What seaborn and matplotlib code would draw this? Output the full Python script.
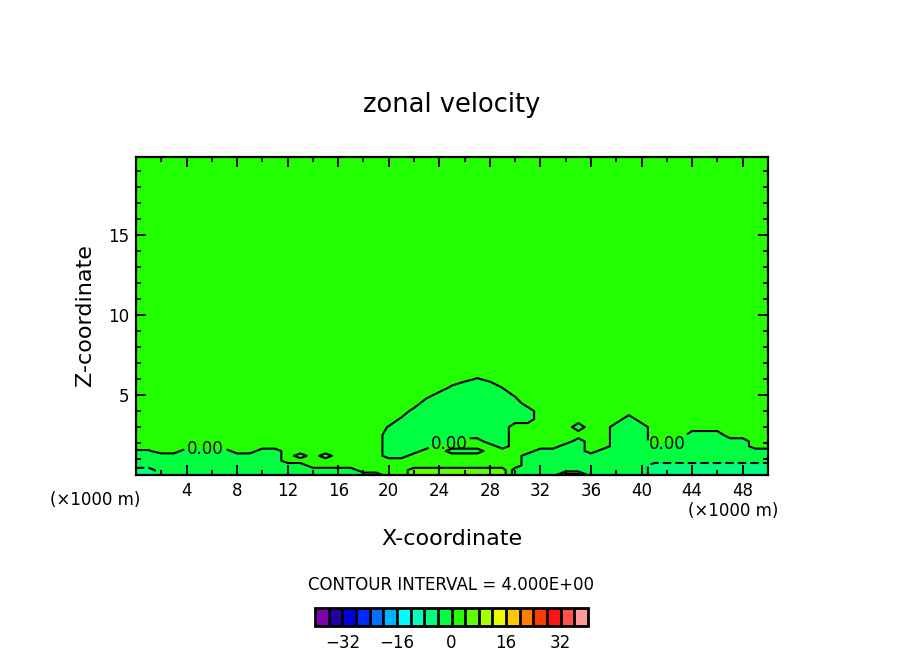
import numpy as np
import seaborn as sns
import matplotlib
matplotlib.use("Agg")
import matplotlib.pyplot as plt
from matplotlib.ticker import FixedLocator, MultipleLocator

# grid: x in 1000 m, z in 1000 m
x_km = np.arange(0, 51)
z_km = [0, 0.3, 0.6, 0.9, 1.2, 1.5, 1.8, 2.1, 2.5, 3.0, 3.5, 4.0, 4.5, 5.0, 5.5, 6.0, 6.5, 19.9]

# zonal velocity (m/s) estimated at each grid row, x = 0 ... 50
u_z00 = [-6, -6, -2, -2, -2, -2, -2, -2, -2, -2,
         -2, -2, -2, -2, -2, -2, -2, -2, -2, -2,
         2, 2, 6, 6, 6, 6, 6, 6, 6, 6,
         -2, -2, -2, -2, 6, 6, -2, -2, -2, -2,
         -2, -6, -6, -6, -6, -6, -6, -6, -6, -6, -6]
u_z03 = [-6, -6, -2, -2, -2, -2, -2, -2, -2, -2,
         -2, -2, -2, -2, -2, -2, -2, -2, 2, 2,
         2, 2, 6, 6, 6, 6, 6, 6, 6, 6,
         -2, -2, -2, -2, -2, -2, -2, -2, -2, -2,
         -2, -6, -6, -6, -6, -6, -6, -6, -6, -6, -6]
u_z06 = [-2, -2, -2, -2, -2, -2, -2, -2, -2, -2,
         -2, -2, -2, -2, 2, 2, 2, 2, 2, 2,
         2, 2, 2, 2, 2, 2, 2, 2, 2, 2,
         2, -2, -2, -2, -2, -2, -2, -2, -2, -2,
         -2, -6, -6, -6, -6, -6, -6, -6, -6, -6, -6]
u_z09 = [-2, -2, -2, -2, -2, -2, -2, -2, -2, -2,
         -2, -2, 2, 2, 2, 2, 2, 2, 2, 2,
         2, 2, 2, 2, 2, 2, 2, 2, 2, 2,
         2, -2, -2, -2, -2, -2, -2, -2, -2, -2,
         -2, -2, -2, -2, -2, -2, -2, -2, -2, -2, -2]
u_z12 = [-2, -2, -2, -2, -2, -2, -2, -2, -2, -2,
         -2, -2, 2, -2, 2, -2, 2, 2, 2, 2,
         -2, -2, 2, 2, 2, 2, 2, 2, 2, 2,
         2, -2, -2, -2, -2, -2, -2, -2, -2, -2,
         -2, -2, -2, -2, -2, -2, -2, -2, -2, -2, -2]
u_z15 = [-0.5, -0.5, 2, 2, -2, -2, -2, -2, 2, 2,
         -2, -2, 2, 2, 2, 2, 2, 2, 2, 2,
         -2, -2, -2, 2, 2, -2, -2, -2, 2, 2,
         2, 2, -2, -2, -2, -2, 2, -2, -2, -2,
         -2, -2, -2, -2, -2, -2, -2, -2, -2, -2, -2]
u_z18 = [2, 2, 2, 2, 2, 2, 2, 2, 2, 2,
         2, 2, 2, 2, 2, 2, 2, 2, 2, 2,
         -2, -2, -2, -2, 2, 2, 2, 2, 2, -2,
         2, 2, 2, 2, -2, -2, 2, 2, -2, -2,
         -2, -2, -2, -2, -2, -2, -2, -2, -2, 2, 2]
u_z21 = [2, 2, 2, 2, 2, 2, 2, 2, 2, 2,
         2, 2, 2, 2, 2, 2, 2, 2, 2, 2,
         -2, -2, -2, -2, -2, -2, 2, 2, -2, -2,
         2, 2, 2, 2, 2, -2, 2, 2, -2, -2,
         -2, 2, 2, -2, -2, -2, -2, -2, -2, 2, 2]
u_z25 = [2] * 20 + [
         -2, -2, -2, -2, -2, -2, -2, -2, -2, -2,
         2, 2, 2, 2, 2, 2, 2, 2, -2, -2,
         -2, 2, 2, 2, -2, -2, -2, 2, 2, 2, 2]
u_z30 = [2] * 20 + [
         -0.3, -2, -2, -2, -2, -2, -2, -2, -2, -2,
         2, 2, 2, 2, 2, -2, 2, 2, -2, -2,
         -2, 2, 2, 2, 2, 2, 2, 2, 2, 2, 2]
u_z35 = [2] * 20 + [
         2, -0.5, -2, -2, -2, -2, -2, -2, -2, -2,
         -2, -2, 2, 2, 2, 2, 2, 2, 2, -2,
         2, 2, 2, 2, 2, 2, 2, 2, 2, 2, 2]
u_z40 = [2] * 20 + [
         2, 2, -1.3, -2, -2, -2, -2, -2, -2, -2,
         -2, -2, 2, 2, 2, 2, 2, 2, 2, 2] + [2] * 11
u_z45 = [2] * 20 + [
         2, 2, 2, -2, -2, -2, -2, -2, -2, -2,
         -2, 2, 2, 2, 2, 2, 2, 2, 2, 2] + [2] * 11
u_z50 = [2] * 20 + [
         2, 2, 2, 1.3, -1.3, -2, -2, -2, -2, -2,
         0.5, 2, 2, 2, 2, 2, 2, 2, 2, 2] + [2] * 11
u_z55 = [2] * 20 + [
         2, 2, 2, 2, 2, -0.5, -2, -2, -2, 0.25] + [2] * 21
u_z60 = [2] * 20 + [
         2, 2, 2, 2, 2, 2, 0.9, -0.3, 0.9, 2] + [2] * 21
u_z65 = [2] * 51
u_ztop = [2] * 51

u_rows = [u_z00, u_z03, u_z06, u_z09, u_z12, u_z15, u_z18, u_z21, u_z25,
          u_z30, u_z35, u_z40, u_z45, u_z50, u_z55, u_z60, u_z65, u_ztop]

levels = np.arange(-40, 41, 4)
cbar_ticks = [-32, -16, 0, 16, 32]
x_major = [4, 8, 12, 16, 20, 24, 28, 32, 36, 40, 44, 48]
y_major = [5, 10, 15]

# NCAR style colour table, one colour per 4 m/s interval
band_colors = ["#7f00af", "#2200a8", "#0000e0", "#0028ff", "#0070ff",
               "#00b4ff", "#00ffff", "#00ffc0", "#00ff80", "#00ff40",
               "#22ff00", "#60ff00", "#a8ff00", "#e8ff00", "#ffc800",
               "#ff8000", "#ff3c00", "#ff1414", "#ff5050", "#ff9a9a"]

sns.set_style("white", {"axes.edgecolor": "black", "xtick.color": "black",
                        "ytick.color": "black", "text.color": "black",
                        "axes.axisbelow": False})
plt.rcParams["font.family"] = ["DejaVu Sans"]

u = np.array(u_rows, dtype=float)
palette = sns.color_palette(band_colors)

fig = plt.figure(figsize=(9.04, 6.54), dpi=100)
ax = fig.add_axes([0.1504, 0.2737, 0.6991, 0.4862])
ax.set_axisbelow(False)

cf = ax.contourf(x_km, z_km, u, levels=levels, colors=palette)
# non-zero lines (negative dashed), then the labelled zero line
other = levels[levels != 0]
ax.contour(x_km, z_km, u, levels=other, colors="black", linewidths=1.5,
           negative_linestyles=(0, (4, 2)))
cs0 = ax.contour(x_km, z_km, u, levels=[0], colors="black", linewidths=1.5)
labels = ax.clabel(cs0, fmt="%.2f", fontsize=12, inline=True, inline_spacing=3,
                   manual=[(5.5, 1.7), (24.8, 1.95), (42.0, 2.1)])
for t in labels:
    t.set_rotation(0)

ax.set_xlim(0, 50)
ax.set_ylim(0, 19.9)
ax.xaxis.set_major_locator(FixedLocator(x_major))
ax.xaxis.set_minor_locator(MultipleLocator(2))
ax.yaxis.set_major_locator(FixedLocator(y_major))
ax.yaxis.set_minor_locator(MultipleLocator(1))
ax.tick_params(which="both", direction="in", bottom=True, left=True, top=True,
               right=True, width=1.4, labelsize=12, pad=5)
ax.tick_params(which="major", length=7)
ax.tick_params(which="minor", length=3.6)
for sp in ax.spines.values():
    sp.set_linewidth(1.6)
    sp.set_color("black")

fig.text(0.5, 0.8394, "zonal velocity", ha="center", va="center", fontsize=18.5)
fig.text(0.094, 0.518, "Z-coordinate", rotation=90, ha="center", va="center", fontsize=16)
fig.text(0.5, 0.1758, "X-coordinate", ha="center", va="center", fontsize=16)
fig.text(0.1056, 0.2355, "(×1000 m)", ha="center", va="center", fontsize=12)
fig.text(0.8108, 0.2187, "(×1000 m)", ha="center", va="center", fontsize=12)
fig.text(0.4989, 0.1055, "CONTOUR INTERVAL = 4.000E+00", ha="center", va="center", fontsize=12)

cax = fig.add_axes([0.3485, 0.0428, 0.302, 0.0275])
cbar = fig.colorbar(cf, cax=cax, orientation="horizontal", ticks=cbar_ticks, drawedges=True)
cbar.outline.set_linewidth(2)
cbar.outline.set_edgecolor("black")
cbar.dividers.set_linewidth(2)
cbar.dividers.set_color("black")
cax.tick_params(length=0, pad=6, labelsize=12)

fig.savefig("out.png", dpi=100)
plt.close(fig)
